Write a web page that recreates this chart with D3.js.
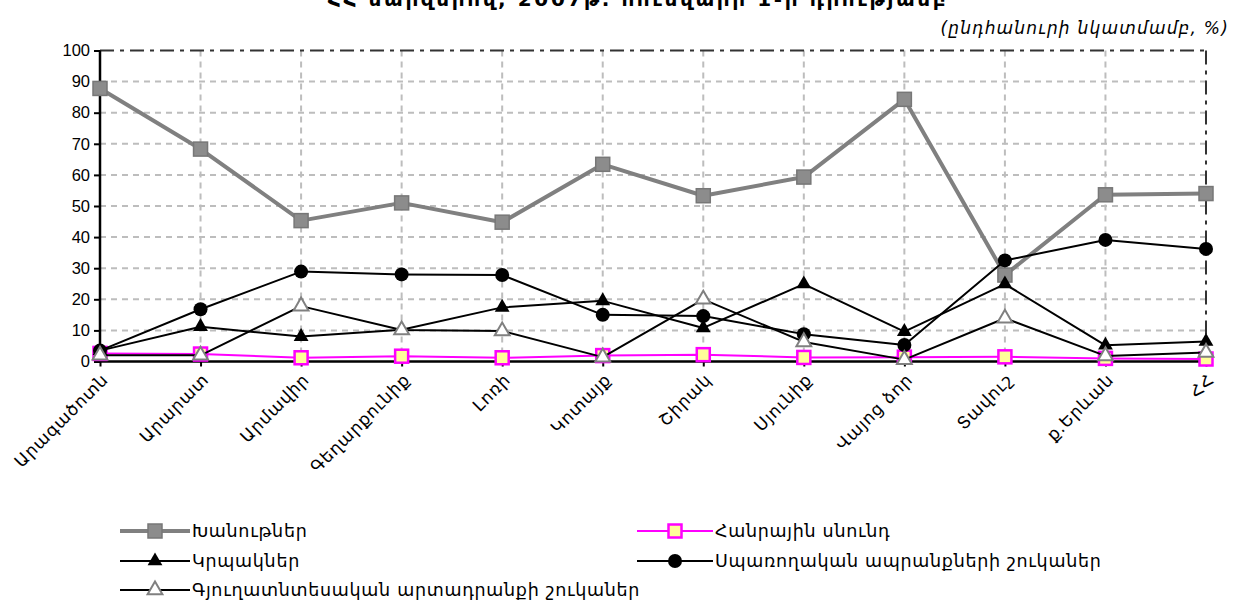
<!DOCTYPE html>
<html><head><meta charset="utf-8">
<script src="https://cdn.jsdelivr.net/npm/d3@7"></script>
<style>body{margin:0;background:#fff}svg{display:block}</style>
</head><body>
<svg id="c" width="1244" height="601"></svg>
<script>
const categories = ["Արագածոտն","Արարատ","Արմավիր","Գեղարքունիք","Լոռի","Կոտայք","Շիրակ","Սյունիք","Վայոց ձոր","Տավուշ","ք.Երևան","ՀՀ"];
const shops      = [87.8, 68.3, 45.3, 51.0, 44.8, 63.4, 53.3, 59.3, 84.3, 27.8, 53.6, 54.0];
const catering   = [2.6, 2.4, 1.2, 1.7, 1.2, 1.9, 2.2, 1.3, 1.4, 1.5, 1.0, 0.8];
const kiosks     = [3.5, 11.2, 8.0, 10.2, 17.4, 19.5, 10.8, 24.9, 9.6, 24.9, 5.2, 6.4];
const consumer   = [3.5, 16.8, 28.9, 28.0, 27.8, 15.0, 14.6, 8.8, 5.3, 32.5, 39.1, 36.2];
const agri       = [2.0, 2.0, 17.8, 10.1, 9.8, 1.4, 20.0, 6.3, 0.6, 13.9, 1.8, 2.9];
const yTicks     = [0,10,20,30,40,50,60,70,80,90,100];
const names = ["Խանութներ","Հանրային սնունդ","Կրպակներ","Սպառողական ապրանքների շուկաներ","Գյուղատնտեսական արտադրանքի շուկաներ"];
const title = "ՀՀ մարզերով, 2007թ. հունվարի 1-ի դրությամբ";
const subtitle = "(ընդհանուրի նկատմամբ, %)";

const svg = d3.select("#c");
const FONT = "'DejaVu Sans',sans-serif";
const L=100, R=1206, T=50.5, B=361.5;
const x = d3.scalePoint().domain(categories).range([L,R]).padding(0);
const y = d3.scaleLinear().domain([0,100]).range([B,T]);

svg.append("text").attr("x",638).attr("y",6).attr("text-anchor","middle")
  .attr("font-family",FONT).attr("font-weight","bold").attr("font-size",20)
  .attr("letter-spacing",2.6).text(title);
svg.append("text").attr("x",1229).attr("y",34).attr("text-anchor","end")
  .attr("font-family",FONT).attr("font-style","italic").attr("font-size",17)
  .attr("letter-spacing",1.2).text(subtitle);

// grid
const g = svg.append("g");
g.selectAll("line.h").data(yTicks.filter(d=>d>0&&d<100)).join("line")
  .attr("x1",L).attr("x2",R).attr("y1",d=>y(d)).attr("y2",d=>y(d))
  .attr("stroke","#bdbdbd").attr("stroke-width",2).attr("stroke-dasharray","6,5");
g.selectAll("line.v").data(categories.slice(1,-1)).join("line")
  .attr("x1",d=>x(d)).attr("x2",d=>x(d)).attr("y1",T).attr("y2",B)
  .attr("stroke","#bdbdbd").attr("stroke-width",2).attr("stroke-dasharray","6,5");
// borders
g.append("line").attr("x1",L).attr("x2",R).attr("y1",T).attr("y2",T)
  .attr("stroke","#333").attr("stroke-width",2).attr("stroke-dasharray","14,6,4,6");
g.append("line").attr("x1",R).attr("x2",R).attr("y1",T).attr("y2",B)
  .attr("stroke","#333").attr("stroke-width",2).attr("stroke-dasharray","14,6,4,6");

// axes
const yAxis = d3.axisLeft(y).tickValues(yTicks).tickSize(6).tickPadding(4);
const ya = svg.append("g").attr("transform",`translate(${L},0)`).call(yAxis);
ya.select(".domain").attr("stroke","#000").attr("stroke-width",2.5).attr("d",`M0,${B}V${T}`);
ya.selectAll(".tick line").attr("stroke","#000").attr("stroke-width",2);
ya.selectAll(".tick text").attr("font-family","'Liberation Sans',Arial,sans-serif").attr("font-size",16.5).attr("fill","#000");

const xAxis = d3.axisBottom(x).tickSize(5).tickFormat("");
const xa = svg.append("g").attr("transform",`translate(0,${B})`).call(xAxis);
xa.select(".domain").attr("stroke","#000").attr("stroke-width",2.5).attr("d",`M${L},0H${R}`);
xa.selectAll(".tick line").attr("stroke","#000").attr("stroke-width",2);
svg.append("g").selectAll("text").data(categories).join("text")
  .attr("transform",d=>`translate(${x(d)+5},${B+15}) rotate(-45)`)
  .attr("text-anchor","end").attr("dy","0.35em")
  .attr("font-family",FONT).attr("font-size",17).attr("letter-spacing",0.8).text(d=>d);

const line = d3.line().x((d,i)=>x(categories[i])).y(d=>y(d));
const tri = d3.symbol().type(d3.symbolTriangle).size(95);

function series(vals, lc, lw){
  svg.append("path").datum(vals).attr("d",line).attr("fill","none")
    .attr("stroke",lc).attr("stroke-width",lw).attr("stroke-linejoin","round");
}
// shops
series(shops,"#808080",4);
svg.append("g").selectAll("rect").data(shops).join("rect")
  .attr("x",(d,i)=>x(categories[i])-7).attr("y",d=>y(d)-7).attr("width",14).attr("height",14)
  .attr("fill","#8c8c8c").attr("stroke","#777").attr("stroke-width",1.5);
// catering
series(catering,"#ff00ff",2);
svg.append("g").selectAll("rect").data(catering).join("rect")
  .attr("x",(d,i)=>x(categories[i])-6.5).attr("y",d=>y(d)-6.5).attr("width",13).attr("height",13)
  .attr("fill","#ffff99").attr("stroke","#ff00ff").attr("stroke-width",2.5);
// kiosks
series(kiosks,"#000",2);
svg.append("g").selectAll("path").data(kiosks).join("path")
  .attr("d",tri).attr("transform",(d,i)=>`translate(${x(categories[i])},${y(d)})`).attr("fill","#000");
// consumer markets
series(consumer,"#000",2);
svg.append("g").selectAll("circle").data(consumer).join("circle")
  .attr("cx",(d,i)=>x(categories[i])).attr("cy",d=>y(d)).attr("r",7).attr("fill","#000");
// agri markets
series(agri,"#000",2);
svg.append("g").selectAll("path").data(agri).join("path")
  .attr("d",tri).attr("transform",(d,i)=>`translate(${x(categories[i])},${y(d)})`)
  .attr("fill","#fff").attr("stroke","#808080").attr("stroke-width",2);

// legend
const leg = svg.append("g");
function legItem(x0, x1, yy, label, kind){
  const mx=(x0+x1)/2;
  if(kind==="shops"){
    leg.append("line").attr("x1",x0).attr("x2",x1).attr("y1",yy).attr("y2",yy).attr("stroke","#808080").attr("stroke-width",4);
    leg.append("rect").attr("x",mx-7).attr("y",yy-7).attr("width",14).attr("height",14).attr("fill","#8c8c8c").attr("stroke","#777").attr("stroke-width",1.5);
  } else if(kind==="cat"){
    leg.append("line").attr("x1",x0).attr("x2",x1).attr("y1",yy).attr("y2",yy).attr("stroke","#ff00ff").attr("stroke-width",2);
    leg.append("rect").attr("x",mx-6.5).attr("y",yy-6.5).attr("width",13).attr("height",13).attr("fill","#ffff99").attr("stroke","#ff00ff").attr("stroke-width",2.5);
  } else {
    leg.append("line").attr("x1",x0).attr("x2",x1).attr("y1",yy).attr("y2",yy).attr("stroke","#000").attr("stroke-width",2);
    if(kind==="kiosk") leg.append("path").attr("d",tri).attr("transform",`translate(${mx},${yy})`).attr("fill","#000");
    if(kind==="cons") leg.append("circle").attr("cx",mx).attr("cy",yy).attr("r",7).attr("fill","#000");
    if(kind==="agri") leg.append("path").attr("d",tri).attr("transform",`translate(${mx},${yy})`).attr("fill","#fff").attr("stroke","#808080").attr("stroke-width",2);
  }
  leg.append("text").attr("x",x1+2).attr("y",yy).attr("dy","0.35em")
    .attr("font-family",FONT).attr("font-size",17.5).attr("letter-spacing",0.7).text(label);
}
legItem(120,190,531,names[0],"shops");
legItem(637,713,531,names[1],"cat");
legItem(120,190,561,names[2],"kiosk");
legItem(637,713,561,names[3],"cons");
legItem(120,190,590,names[4],"agri");
</script>
</body></html>
